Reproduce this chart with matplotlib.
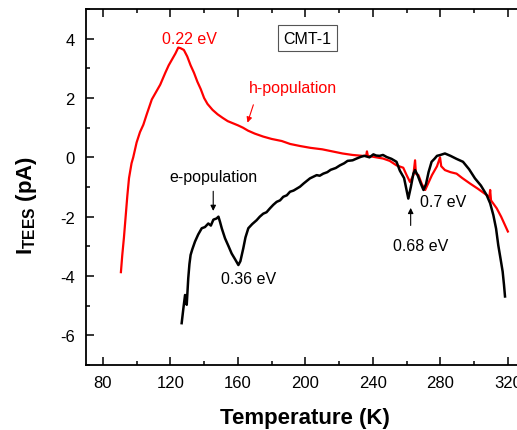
import matplotlib
matplotlib.use("Agg")
import matplotlib.pyplot as plt
from matplotlib.ticker import MultipleLocator

plt.rcParams['font.family'] = ['Liberation Sans', 'DejaVu Sans']
plt.rcParams['mathtext.fontset'] = 'custom'
plt.rcParams['mathtext.rm'] = 'Liberation Sans'
plt.rcParams['mathtext.bf'] = 'Liberation Sans:bold'
plt.rcParams['axes.unicode_minus'] = False

# h-population (red) TEES curve
T_h = [90.7, 91.5, 92.5, 93.5, 94.5, 95.5, 97, 98, 100, 102, 104, 106, 109, 112,
       114, 117, 119, 121, 123, 124.7, 126, 128, 130, 132, 134, 136, 138, 140,
       142, 145, 148, 151, 154, 157, 160, 163, 166, 170, 175, 180, 186, 191,
       197, 203, 210, 216, 222, 228, 234, 236, 236.5, 237, 242, 246, 250, 254,
       258, 260, 262, 264, 265, 265.5, 267, 269, 271, 273, 275, 278, 279.8,
       280.5, 282.7, 286, 289.6, 293, 297.5, 302, 307.4, 309, 309.5, 310,
       313.4, 316, 318, 320]
I_h = [-3.87, -3.3, -2.7, -2.0, -1.3, -0.7, -0.2, 0.0, 0.5, 0.85, 1.1, 1.45,
       1.95, 2.25, 2.45, 2.85, 3.1, 3.3, 3.5, 3.7, 3.68, 3.62, 3.4, 3.1, 2.85,
       2.55, 2.3, 2.0, 1.8, 1.6, 1.45, 1.33, 1.22, 1.15, 1.08, 1.0, 0.9, 0.8,
       0.7, 0.62, 0.55, 0.45, 0.38, 0.32, 0.27, 0.2, 0.13, 0.08, 0.05, 0.05,
       0.2, 0.05, 0.0, -0.04, -0.12, -0.27, -0.35, -0.6, -0.83, -0.6, -0.1,
       -0.55, -0.6, -0.9, -1.1, -0.85, -0.6, -0.3, 0.0, -0.3, -0.43, -0.5,
       -0.55, -0.7, -0.88, -1.05, -1.27, -1.35, -1.1, -1.45, -1.72, -2.0,
       -2.25, -2.5]

# e-population (black) TEES curve
T_e = [126.7, 127.7, 128.7, 129.7, 130.6, 131.3, 132, 133, 134.6, 136.5,
       138.6, 140.5, 142.5, 144, 145.5, 147.4, 148.5, 149.4, 150.5, 152.4,
       154.5, 156.3, 158.5, 160.3, 161.5, 163.2, 164.5, 166.2, 168.5, 171.1,
       173, 175, 177, 179, 181, 183, 185, 186.9, 189, 190.9, 193, 196.8, 199,
       202.7, 204.5, 206.7, 208.5, 210.6, 213, 215, 218, 220.5, 223, 225, 228,
       230.4, 233, 235, 238, 240.3, 242, 244, 246, 248.2, 251, 254, 256, 258.5,
       261, 262.5, 264, 265, 266.5, 268.5, 270, 271.5, 273, 274.8, 276.5, 278,
       280, 282.7, 286, 289.5, 293.4, 297, 300.5, 304, 307.4, 309.5, 311.4,
       313, 314.3, 315.6, 316.9, 317.7, 318.3]
I_e = [-5.59, -5.1, -4.64, -4.97, -4.08, -3.6, -3.29, -3.1, -2.84, -2.6,
       -2.39, -2.35, -2.23, -2.3, -2.1, -2.06, -2.0, -2.17, -2.4, -2.73, -3.0,
       -3.24, -3.45, -3.63, -3.5, -3.07, -2.7, -2.39, -2.25, -2.12, -2.0,
       -1.9, -1.85, -1.72, -1.6, -1.5, -1.45, -1.33, -1.28, -1.16, -1.12,
       -0.99, -0.88, -0.71, -0.66, -0.6, -0.62, -0.55, -0.5, -0.42, -0.36,
       -0.27, -0.2, -0.12, -0.1, -0.04, 0.02, 0.05, 0.0, 0.1, 0.06, 0.05, 0.08,
       0.01, -0.05, -0.15, -0.45, -0.7, -1.39, -1.0, -0.55, -0.43, -0.6, -0.9,
       -1.1, -0.9, -0.5, -0.15, -0.05, 0.05, 0.08, 0.13, 0.05, -0.05, -0.15,
       -0.4, -0.71, -0.95, -1.27, -1.55, -1.95, -2.4, -2.96, -3.4, -3.85,
       -4.3, -4.69]

fig = plt.figure(figsize=(5.17, 4.31), dpi=100)
ax = fig.add_axes([0.1663, 0.1508, 0.8487, 0.826])

ax.plot(T_h, I_h, color='#ff0000', lw=1.6)
ax.plot(T_e, I_e, color='black', lw=1.8)

ax.set_xlim(70, 330)
ax.set_ylim(-7, 5)
ax.xaxis.set_major_locator(MultipleLocator(40))
ax.xaxis.set_minor_locator(MultipleLocator(20))
ax.yaxis.set_major_locator(MultipleLocator(2))
ax.yaxis.set_minor_locator(MultipleLocator(1))
ax.tick_params(which='both', direction='in', top=True, right=True, labelsize=12, width=1.1)
ax.tick_params(which='major', length=5.5)
ax.tick_params(which='minor', length=3)
ax.tick_params(axis='x', which='major', pad=7.5)
ax.tick_params(axis='y', which='major', pad=8)
for s in ax.spines.values():
    s.set_linewidth(1.3)

ax.set_xlabel('Temperature (K)', fontsize=16, fontweight='bold', labelpad=12)
ax.set_ylabel(r'$\mathbf{I}_{\mathbf{TEES}}$ (pA)', fontsize=16, fontweight='bold')
ax.yaxis.set_label_coords(-0.108, 0.45)

fs = 11.5
ax.text(131.6, 4.0, '0.22 eV', color='#ff0000', fontsize=fs, ha='center', va='center')
ax.text(192.4, 2.37, 'h-population', color='#ff0000', fontsize=fs, ha='center', va='center')
ax.annotate('', xy=(165.2, 1.08), xytext=(169.7, 1.86),
            arrowprops=dict(arrowstyle='-|>', color='#ff0000', lw=0.8, mutation_scale=8))
ax.text(145.4, -0.66, 'e-population', color='black', fontsize=fs, ha='center', va='center')
ax.annotate('', xy=(145.4, -1.9), xytext=(145.4, -1.05),
            arrowprops=dict(arrowstyle='-|>', color='black', lw=0.8, mutation_scale=8))
ax.text(166.2, -4.08, '0.36 eV', color='black', fontsize=fs, ha='center', va='center')
ax.text(268.5, -2.96, '0.68 eV', color='black', fontsize=fs, ha='center', va='center')
ax.annotate('', xy=(262.4, -1.61), xytext=(262.4, -2.39),
            arrowprops=dict(arrowstyle='-|>', color='black', lw=0.8, mutation_scale=8))
ax.text(281.6, -1.48, '0.7 eV', color='black', fontsize=fs, ha='center', va='center')
ax.text(201.3, 4.02, 'CMT-1', color='black', fontsize=fs, ha='center', va='center',
        bbox=dict(boxstyle='square,pad=0.35', facecolor='white', edgecolor='#555555', lw=0.8))

fig.savefig('out.png', dpi=100)
